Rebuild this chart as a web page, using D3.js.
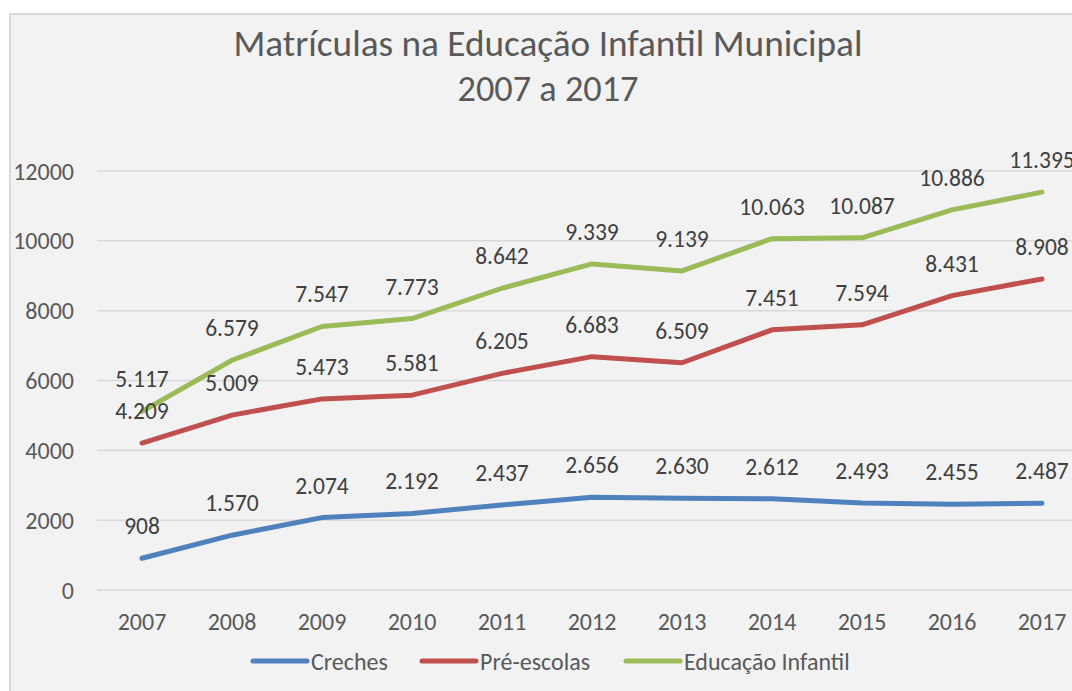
<!DOCTYPE html>
<html>
<head>
<meta charset="utf-8">
<script src="https://cdn.jsdelivr.net/npm/d3@7"></script>
<style>
  body { margin: 0; background: #fff; }
  svg { display: block; }
</style>
</head>
<body>
<svg id="chart"></svg>
<script>
const years = ["2007","2008","2009","2010","2011","2012","2013","2014","2015","2016","2017"];
const creches = [908, 1570, 2074, 2192, 2437, 2656, 2630, 2612, 2493, 2455, 2487];
const preEscolas = [4209, 5009, 5473, 5581, 6205, 6683, 6509, 7451, 7594, 8431, 8908];
const educacaoInfantil = [5117, 6579, 7547, 7773, 8642, 9339, 9139, 10063, 10087, 10886, 11395];
const yTicks = [0, 2000, 4000, 6000, 8000, 10000, 12000];
const seriesNames = ["Creches", "Pré-escolas", "Educação Infantil"];

const W = 1072, H = 691;
const font = "Carlito, Calibri, 'Liberation Sans', Arial, sans-serif";
const colors = ["#4f81bd", "#c0504d", "#9bbb59"];
const series = [creches, preEscolas, educacaoInfantil];

let svg = d3.select("#chart")
    .attr("width", W)
    .attr("height", H);

// chart area background + border
svg.append("rect")
    .attr("x", 10).attr("y", 14)
    .attr("width", W).attr("height", H)
    .attr("fill", "#f2f2f2")
    .attr("stroke", "#d9d9d9")
    .attr("stroke-width", 2);

// title
svg.append("text")
    .attr("x", 548).attr("y", 56)
    .attr("text-anchor", "middle")
    .attr("font-family", font)
    .attr("font-size", 36)
    .attr("fill", "#595959")
    .attr("textLength", 629)
    .attr("lengthAdjust", "spacingAndGlyphs")
    .text("Matrículas na Educação Infantil Municipal");
svg.append("text")
    .attr("x", 548).attr("y", 101)
    .attr("text-anchor", "middle")
    .attr("font-family", font)
    .attr("font-size", 36)
    .attr("fill", "#595959")
    .attr("textLength", 181)
    .attr("lengthAdjust", "spacingAndGlyphs")
    .text("2007 a 2017");

let x = d3.scaleBand()
    .domain(years)
    .range([97, 1087]);

let y = d3.scaleLinear()
    .domain([0, 12000])
    .range([590, 171]);

// grid
svg.append("g")
    .selectAll("line")
    .data(yTicks)
    .enter()
    .append("line")
    .attr("x1", 97).attr("x2", 1087)
    .attr("y1", d => y(d)).attr("y2", d => y(d))
    .attr("stroke", "#d9d9d9")
    .attr("stroke-width", 1.5);

// y labels
svg.append("g")
    .selectAll("text")
    .data(yTicks)
    .enter()
    .append("text")
    .text(d => d)
    .attr("x", 74)
    .attr("y", d => y(d))
    .attr("dy", "0.36em")
    .attr("text-anchor", "end")
    .attr("font-family", font)
    .attr("font-size", 24)
    .attr("fill", "#595959");

// x labels
svg.append("g")
    .selectAll("text")
    .data(years)
    .enter()
    .append("text")
    .text(d => d)
    .attr("x", d => x(d) + x.bandwidth() / 2)
    .attr("y", 630)
    .attr("text-anchor", "middle")
    .attr("font-family", font)
    .attr("font-size", 24)
    .attr("fill", "#595959");

let line = d3.line()
    .x((d, i) => x(years[i]) + x.bandwidth() / 2)
    .y(d => y(d));

series.forEach((s, k) => {
    svg.append("path")
        .datum(s)
        .attr("d", line)
        .attr("fill", "none")
        .attr("stroke", colors[k])
        .attr("stroke-width", 5)
        .attr("stroke-linecap", "round")
        .attr("stroke-linejoin", "round");
});

// data labels
series.forEach((s, k) => {
    svg.append("g")
        .selectAll("text")
        .data(s)
        .enter()
        .append("text")
        .text(d => d3.format(",")(d).replace(/,/g, "."))
        .attr("x", (d, i) => x(years[i]) + x.bandwidth() / 2)
        .attr("y", d => y(d) - 24)
        .attr("text-anchor", "middle")
        .attr("font-family", font)
        .attr("font-size", 23.5)
        .attr("fill", "#404040");
});

// legend
let legendX = [253, 422, 626];
let legend = svg.append("g")
    .selectAll("g")
    .data(seriesNames)
    .enter()
    .append("g")
    .attr("transform", (d, i) => `translate(${legendX[i]},661)`);
legend.append("line")
    .attr("x1", 0).attr("x2", 54)
    .attr("stroke", (d, i) => colors[i])
    .attr("stroke-width", 5)
    .attr("stroke-linecap", "round");
legend.append("text")
    .text(d => d)
    .attr("x", 58)
    .attr("y", 0)
    .attr("dy", "0.36em")
    .attr("font-family", font)
    .attr("font-size", 24)
    .attr("fill", "#595959");
</script>
</body>
</html>
